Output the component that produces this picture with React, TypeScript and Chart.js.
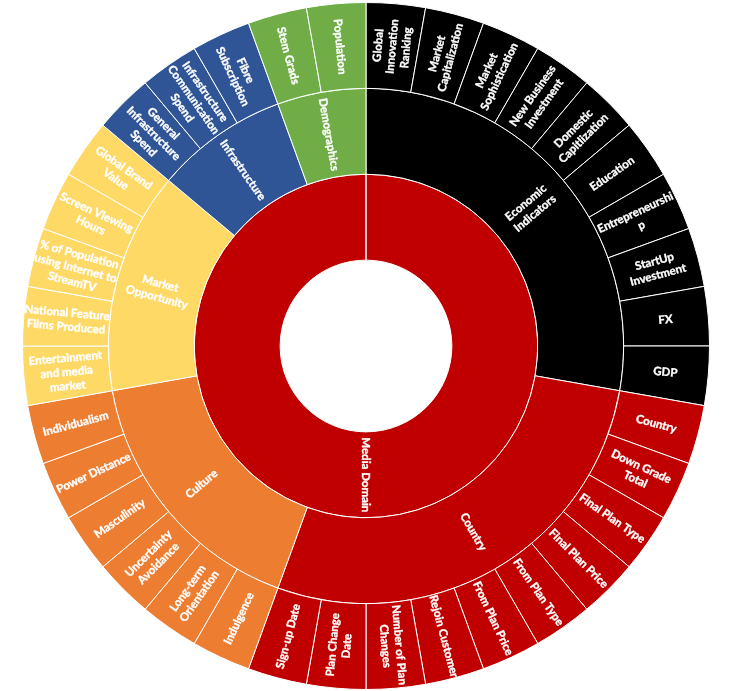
import React, { useEffect, useRef } from "react";
import { Chart, registerables } from "chart.js";

Chart.register(...registerables);

const rootLabel = "Media Domain";

const categoryLabels = [
  "Economic\nIndicators",
  "Country",
  "Culture",
  "Market\nOpportunity",
  "Infrastructure",
  "Demographics",
];
const categoryColors = ["#000000", "#C00000", "#ED7D31", "#FFD966", "#2F5597", "#70AD47"];

const leafLabels = [
  "Global\nInnovation\nRanking",
  "Market\nCapitalization",
  "Market\nSophistication",
  "New Business\nInvestment",
  "Domestic\nCapitlization",
  "Education",
  "Entrepreneurshi\np",
  "StartUp\nInvestment",
  "FX",
  "GDP",
  "Country",
  "Down Grade\nTotal",
  "Final Plan Type",
  "Final Plan Price",
  "From Plan Type",
  "From Plan Price",
  "Rejoin Customer",
  "Number of Plan\nChanges",
  "Plan Change\nDate",
  "Sign-up Date",
  "Indulgence",
  "Long-term\nOrientation",
  "Uncertainty\nAvoidance",
  "Masculinity",
  "Power Distance",
  "Individualism",
  "Entertainment\nand media\nmarket",
  "National Feature\nFilms Produced",
  "% of Population\nusing Internet to\nStreamTV",
  "Screen Viewing\nHours",
  "Global Brand\nValue",
  "General\nInfrastructure\nSpend",
  "Infrastructure\nCommunication\nSpend",
  "Fibre\nSubscription",
  "Stem Grads",
  "Population",
];
const leafParent = [
  0, 0, 0, 0, 0, 0, 0, 0, 0, 0,
  1, 1, 1, 1, 1, 1, 1, 1, 1, 1,
  2, 2, 2, 2, 2, 2,
  3, 3, 3, 3, 3,
  4, 4, 4,
  5, 5,
];
const leafValues = [
  1, 1, 1, 1, 1, 1, 1, 1, 1, 1,
  1, 1, 1, 1, 1, 1, 1, 1, 1, 1,
  1, 1, 1, 1, 1, 1,
  1, 1, 1, 1, 1,
  1, 1, 1,
  1, 1,
];

const FONT = "bold 11.5px Lato";
const LINE_H = 14;

const labelPlugin = {
  id: "sunburstLabels",
  afterDatasetsDraw(chart: any) {
    const ctx = chart.ctx;
    ctx.save();
    ctx.fillStyle = "#ffffff";
    ctx.strokeStyle = "#ffffff";
    ctx.lineWidth = 0.35;
    ctx.font = FONT;
    ctx.textAlign = "center";
    ctx.textBaseline = "middle";
    chart.data.datasets.forEach((ds: any, di: number) => {
      const meta = chart.getDatasetMeta(di);
      meta.data.forEach((arc: any, i: number) => {
        const p = arc.getProps(["x", "y", "startAngle", "endAngle", "innerRadius", "outerRadius"], true);
        const a = (p.startAngle + p.endAngle) / 2;
        const r = (p.innerRadius + p.outerRadius) / 2;
        let theta = a + Math.PI / 2;
        theta = ((theta % (2 * Math.PI)) + 2 * Math.PI) % (2 * Math.PI);
        const rot = theta <= Math.PI + 1e-6 ? a : a + Math.PI;
        const cx = p.x + r * Math.cos(a);
        const cy = p.y + r * Math.sin(a);
        const text: string = ds.textLabels[i];
        const lines = text.split("\n");
        ctx.save();
        ctx.translate(cx, cy);
        ctx.rotate(rot);
        const start = -((lines.length - 1) * LINE_H) / 2;
        lines.forEach((ln, k) => {
          ctx.fillText(ln, 0, start + k * LINE_H);
          ctx.strokeText(ln, 0, start + k * LINE_H);
        });
        ctx.restore();
      });
    });
    ctx.restore();
  },
};

export default function App() {
  const ref = useRef<HTMLCanvasElement>(null);
  useEffect(() => {
    if (!ref.current) return;
    const categoryValues = categoryLabels.map((_, c) =>
      leafValues.reduce((s, v, i) => (leafParent[i] === c ? s + v : s), 0)
    );
    const rootValue = leafValues.reduce((s, v) => s + v, 0);
    const chart = new Chart(ref.current, {
      type: "doughnut",
      data: {
        labels: leafLabels,
        datasets: [
          {
            data: leafValues,
            backgroundColor: leafParent.map((c) => categoryColors[c]),
            borderColor: "#ffffff",
            borderWidth: 1,
            textLabels: leafLabels,
          } as any,
          {
            data: categoryValues,
            backgroundColor: categoryColors,
            borderColor: "#ffffff",
            borderWidth: 1,
            textLabels: categoryLabels,
          } as any,
          {
            data: [rootValue],
            backgroundColor: ["#C00000"],
            borderColor: "#ffffff",
            borderWidth: 1,
            textLabels: [rootLabel],
          } as any,
        ],
      },
      options: {
        animation: false,
        responsive: true,
        maintainAspectRatio: false,
        cutout: "25%",
        events: [],
        layout: { padding: { left: 22, right: 22, top: 2, bottom: 1 } },
        plugins: {
          legend: { display: false },
          tooltip: { enabled: false },
        },
      },
      plugins: [labelPlugin],
    });
    return () => chart.destroy();
  }, []);
  return (
    <div style={{ position: "absolute", left: 0, top: 0, width: 732, height: 691 }}>
      <canvas ref={ref} />
    </div>
  );
}
